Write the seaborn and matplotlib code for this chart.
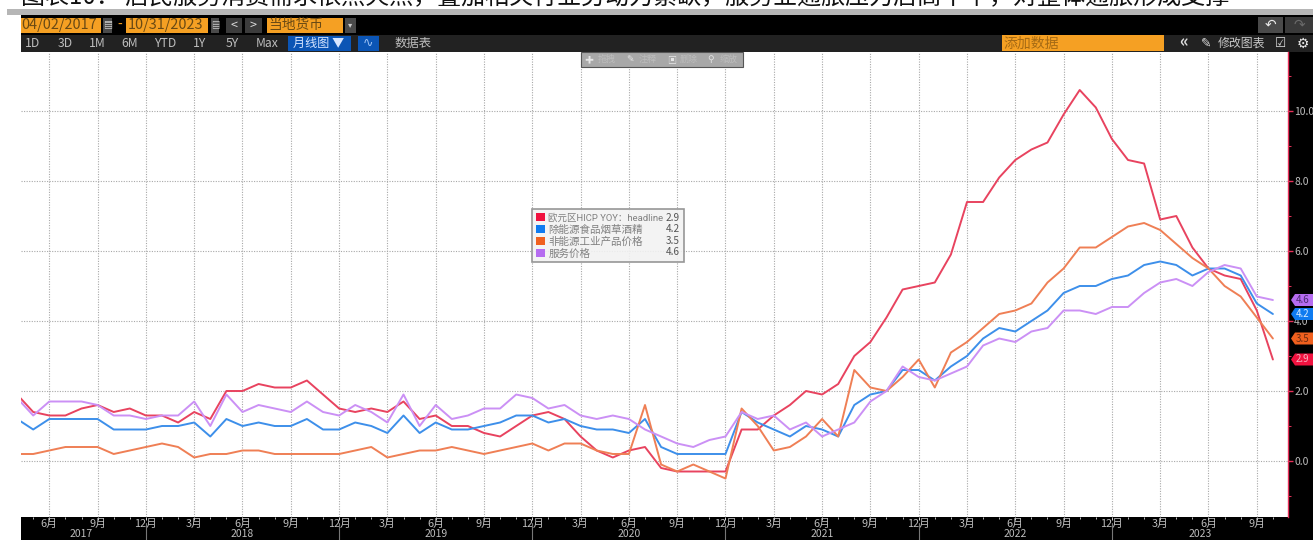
import matplotlib
matplotlib.use("Agg")
import matplotlib.pyplot as plt
from matplotlib.font_manager import FontProperties
from matplotlib.patches import Rectangle, Patch
from matplotlib.path import Path
from matplotlib.ticker import FixedLocator, MultipleLocator
import pandas as pd
import seaborn as sns

# ---- data ----
months = pd.date_range("2017-04-01", "2023-10-01", freq="MS").strftime("%Y-%m").tolist()
hicp = [1.9,1.4,1.3,1.3,1.5,1.6,1.4,1.5,1.3,
        1.3,1.1,1.4,1.2,2.0,2.0,2.2,2.1,2.1,2.3,1.9,1.5,
        1.4,1.5,1.4,1.7,1.2,1.3,1.0,1.0,0.8,0.7,1.0,1.3,
        1.4,1.2,0.7,0.3,0.1,0.3,0.4,-0.2,-0.3,-0.3,-0.3,-0.3,
        0.9,0.9,1.3,1.6,2.0,1.9,2.2,3.0,3.4,4.1,4.9,5.0,
        5.1,5.9,7.4,7.4,8.1,8.6,8.9,9.1,9.9,10.6,10.1,9.2,
        8.6,8.5,6.9,7.0,6.1,5.5,5.3,5.2,4.3,2.9]
core = [1.2,0.9,1.2,1.2,1.2,1.2,0.9,0.9,0.9,
        1.0,1.0,1.1,0.7,1.2,1.0,1.1,1.0,1.0,1.2,0.9,0.9,
        1.1,1.0,0.8,1.3,0.8,1.1,0.9,0.9,1.0,1.1,1.3,1.3,
        1.1,1.2,1.0,0.9,0.9,0.8,1.2,0.4,0.2,0.2,0.2,0.2,
        1.4,1.1,0.9,0.7,1.0,0.9,0.7,1.6,1.9,2.0,2.6,2.6,
        2.3,2.7,3.0,3.5,3.8,3.7,4.0,4.3,4.8,5.0,5.0,5.2,
        5.3,5.6,5.7,5.6,5.3,5.5,5.5,5.3,4.5,4.2]
neig = [0.2,0.2,0.3,0.4,0.4,0.4,0.2,0.3,0.4,
        0.5,0.4,0.1,0.2,0.2,0.3,0.3,0.2,0.2,0.2,0.2,0.2,
        0.3,0.4,0.1,0.2,0.3,0.3,0.4,0.3,0.2,0.3,0.4,0.5,
        0.3,0.5,0.5,0.3,0.2,0.2,1.6,-0.1,-0.3,-0.1,-0.3,-0.5,
        1.5,1.0,0.3,0.4,0.7,1.2,0.7,2.6,2.1,2.0,2.4,2.9,
        2.1,3.1,3.4,3.8,4.2,4.3,4.5,5.1,5.5,6.1,6.1,6.4,
        6.7,6.8,6.6,6.2,5.8,5.5,5.0,4.7,4.1,3.5]
serv = [1.8,1.3,1.7,1.7,1.7,1.6,1.3,1.3,1.2,
        1.3,1.3,1.7,1.0,1.9,1.4,1.6,1.5,1.4,1.7,1.4,1.3,
        1.6,1.4,1.1,1.9,1.0,1.6,1.2,1.3,1.5,1.5,1.9,1.8,
        1.5,1.6,1.3,1.2,1.3,1.2,0.9,0.7,0.5,0.4,0.6,0.7,
        1.4,1.2,1.3,0.9,1.1,0.7,0.9,1.1,1.7,2.0,2.7,2.4,
        2.3,2.5,2.7,3.3,3.5,3.4,3.7,3.8,4.3,4.3,4.2,4.4,
        4.4,4.8,5.1,5.2,5.0,5.4,5.6,5.5,4.7,4.6]
series_names = ["欧元区HICP YOY：headline", "除能源食品烟草酒精", "非能源工业产品价格", "服务价格"]
last_values = ["2.9", "4.2", "3.5", "4.6"]
line_colors = ["#E8435F", "#3D8FEA", "#EF7F55", "#CB90F5"]
tag_colors = ["#F0123F", "#0F7BF0", "#F0601E", "#B56CF0"]
tag_text = ["#F5B0C0", "#D8ECFF", "#6B2A10", "#4A2A70"]
title = "图表10： 居民服务消费需求依然火热，叠加相关行业劳动力紧缺，服务业通胀压力居高不下，对整体通胀形成支撑"
year_labels = ["2017", "2018", "2019", "2020", "2021", "2022", "2023"]
year_pos = [4, 14, 26, 38, 50, 62, 73.5]

W, H = 1313, 540
sns.set_theme(style="white")
plt.rcParams["font.family"] = ["Noto Sans CJK SC", "DejaVu Sans"]

fig = plt.figure(figsize=(W / 100, H / 100), dpi=100, facecolor="white")
ax = fig.add_axes([21 / W, (H - 517) / H, (1288 - 21) / W, (517 - 52) / H])
ax.set_zorder(2)
ax.patch.set_alpha(0)


def fx(px):
    return px / W


def fy(py):
    return 1 - py / H


def box(x0, y0, x1, y1, color, z=0, **kw):
    fig.add_artist(Rectangle((fx(x0), fy(y1)), (x1 - x0) / W, (y1 - y0) / H,
                             transform=fig.transFigure, facecolor=color,
                             edgecolor=kw.pop("edgecolor", "none"), zorder=z, **kw))


def label(x, y, s, color="#BDBDBD", size=7.5, ha="center", z=5, **kw):
    fig.text(fx(x), fy(y), s, color=color, fontsize=size, ha=ha, va="center", zorder=z, **kw)


def tag_shape(x0, y0, width, height, mutation_size):
    """Pentagon price tag pointing left, reaching the right picture edge."""
    l, r, b, t = x0 - 1, x0 + width + 11, y0 - 1, y0 + height + 1
    m = (b + t) / 2
    return Path([(l - 4, m), (l, b), (r, b), (r, t), (l, t), (l - 4, m)],
                [Path.MOVETO] + [Path.LINETO] * 4 + [Path.CLOSEPOLY])


# ---- frame bands (behind the axes) ----
box(7, 9, W, 15, "#B6B6B6")
box(21, 15, W, 35, "#000000")
box(21, 35, W, 52, "#222222")
box(1288, 52, W, 540, "#000000")
box(21, 517, W, 540, "#000000")
label(21, -3, title, color="#111111", size=17.3, ha="left")

# ---- main chart ----
idx = list(range(len(months)))
df = pd.DataFrame({"i": idx * 4,
                   "v": hicp + core + neig + serv,
                   "s": sum([[n] * len(months) for n in series_names], [])})
sns.lineplot(data=df, x="i", y="v", hue="s", hue_order=series_names,
             palette=line_colors, linewidth=1.4, legend=False, ax=ax, errorbar=None)
ax.set_xlabel("")
ax.set_ylabel("")
ax.set_xlim((21 - 17.1) / 16.1, (1288 - 17.1) / 16.1)
ax.set_ylim(-56 / 35, 409 / 35)

month_ticks = [i for i in idx if months[i][5:] in ("03", "06", "09", "12")]
ax.set_xticks(month_ticks)
ax.set_xticklabels([f"{int(months[i][5:])}月" for i in month_ticks])
ax.xaxis.set_minor_locator(FixedLocator(idx))
ax.tick_params(axis="x", which="major", length=2.5, width=0.7, color="#DDDDDD",
               labelcolor="#BDBDBD", labelsize=7.8, pad=-1, bottom=True)
ax.tick_params(axis="x", which="minor", length=1.5, width=0.6, color="#DDDDDD", bottom=True)

ax.yaxis.tick_right()
ax.yaxis.set_minor_locator(MultipleLocator(1))
ax.set_yticks(range(0, 11, 2))
ax.set_yticklabels([f"{v:.1f}" for v in range(0, 11, 2)])
ax.tick_params(axis="y", which="major", length=3.5, width=1, color="#E8305A", direction="out",
               labelcolor="#BDBDBD", labelsize=7.5, pad=1, right=True)
ax.tick_params(axis="y", which="minor", length=2, width=0.7, color="#E8305A", right=True)

ax.grid(True, which="major", color="#A8A8A8", linestyle=(0, (1, 1.3)), linewidth=0.8)
for side in ("left", "top", "bottom"):
    ax.spines[side].set_visible(False)
ax.spines["right"].set_color("#E8305A")
ax.spines["right"].set_linewidth(1)

# years and separators in the lower band
xf = ax.get_xaxis_transform()
for s, p in zip(year_labels, year_pos):
    ax.text(p, -17 / 465, s, transform=xf, color="#BDBDBD", fontsize=7.5, ha="center", va="center", clip_on=False)
for i in idx:
    if months[i][5:] == "12":
        ax.plot([i, i], [-6 / 465, -23 / 465], transform=xf, color="#777777", lw=0.8, clip_on=False)

# last value tags
yf = ax.get_yaxis_transform()
for v, c, t in zip(last_values, tag_colors, tag_text):
    ax.text(1 + 8 / 1267, float(v), v, transform=yf, color=t, fontsize=7, ha="left", va="center",
            clip_on=False, zorder=6,
            bbox=dict(boxstyle=tag_shape, facecolor=c, edgecolor="none"))

# legend box
handles = [Patch(facecolor=c, edgecolor="none") for c in tag_colors]
leg = ax.legend(handles, series_names, loc="upper left", mode="expand",
                bbox_to_anchor=(fx(532), fy(209), 152 / W, 0.0), bbox_transform=fig.transFigure,
                borderaxespad=0, prop=FontProperties(family=["Roboto", "Noto Sans CJK SC"], size=7.6),
                labelcolor="#808080", frameon=True, fancybox=False,
                facecolor="#F2F2F2", edgecolor="#8C8C8C", framealpha=0.9,
                handlelength=0.85, handleheight=0.85, handletextpad=0.35,
                labelspacing=0.18, borderpad=0.35)
leg.get_frame().set_linewidth(1.2)
leg.get_texts()[0].set_fontsize(6.8)
for v, y in zip(last_values, [218, 229.5, 241, 252]):
    label(680, y, v, color="#555555", size=7.2, ha="right", z=6)

# ---- toolbar row 1 ----
ORANGE = "#F5A023"
INK = "#6A4A14"
box(21, 17.5, 101, 33, ORANGE, z=1)
label(21.5, 25, "04/02/2017", color=INK, size=10.4, ha="left")
box(103, 18, 112, 33, "#4A4A4A", z=1)
label(107.5, 25, "▤", color="#CCCCCC", size=6.5)
label(120, 25, "-", color=ORANGE, size=10)
box(126, 17.5, 208, 33, ORANGE, z=1)
label(128, 25, "10/31/2023", color=INK, size=10.4, ha="left")
box(211, 18, 219, 33, "#4A4A4A", z=1)
label(215, 25, "▤", color="#CCCCCC", size=6)
box(226, 18, 242, 33, "#3C3C3C", z=1)
label(234, 25, "<", color="#DDDDDD", size=9)
box(245, 18, 262, 33, "#3C3C3C", z=1)
label(253, 25, ">", color="#DDDDDD", size=9)
box(267, 17.5, 343, 33, ORANGE, z=1)
label(268, 25, "当地货币", color=INK, size=9.9, ha="left")
box(345, 18, 356, 33, "#4A4A4A", z=1)
label(350.5, 25, "▾", color="#CCCCCC", size=6)
box(1258, 17, 1283, 33, "#4A4A4A", z=1)
label(1270, 25, "↶", color="#E8E8E8", size=10)
box(1285, 17, W, 33, "#3A3A3A", z=1)
label(1299, 25, "↷", color="#6A6A6A", size=10)

# ---- toolbar row 2 ----
for x, s in zip([32, 65, 97, 130, 165, 200, 232, 267],
                ["1D", "3D", "1M", "6M", "YTD", "1Y", "5Y", "Max"]):
    label(x, 43.5, s, size=8.8)
box(288, 35.5, 351, 51, "#0B55B5", z=1)
label(319, 43.5, "月线图 ▼", color="#D8E6FF", size=8.7)
box(358, 35.5, 379, 51, "#0B55B5", z=1)
label(368, 43, "∿", color="#9CC2F5", size=9)
label(413, 43.5, "数据表", size=8.9)
box(1002, 35.5, 1164, 50.5, ORANGE, z=1)
label(1003, 43.5, "添加数据", color="#A56A14", size=10, ha="left")
label(1184, 42.5, "«", color="#DDDDDD", size=12, fontweight="bold")
label(1206, 43.5, "✎", color="#DDDDDD", size=9)
label(1241, 43.5, "修改图表", color="#C8C8C8", size=8.6)
label(1281, 43.5, "☑", color="#DDDDDD", size=9)
label(1303, 43.5, "⚙", color="#E8E8E8", size=10)

# ---- floating chart tools ----
box(580.5, 52, 742.5, 67, "#A8A8A8", z=3, edgecolor="#555555", linewidth=0.8)
for x, s in zip([589, 630, 672, 711], ["✚", "✎", "▣", "⚲"]):
    label(x, 59.5, s, color="#E6E6E6", size=6.5)
for x, s in zip([607, 648, 689, 729], ["拖拽", "注释", "删除", "缩放"]):
    label(x, 59.5, s, color="#BDBDBD", size=6.5)

fig.savefig("out.png", dpi=100, facecolor="white")
